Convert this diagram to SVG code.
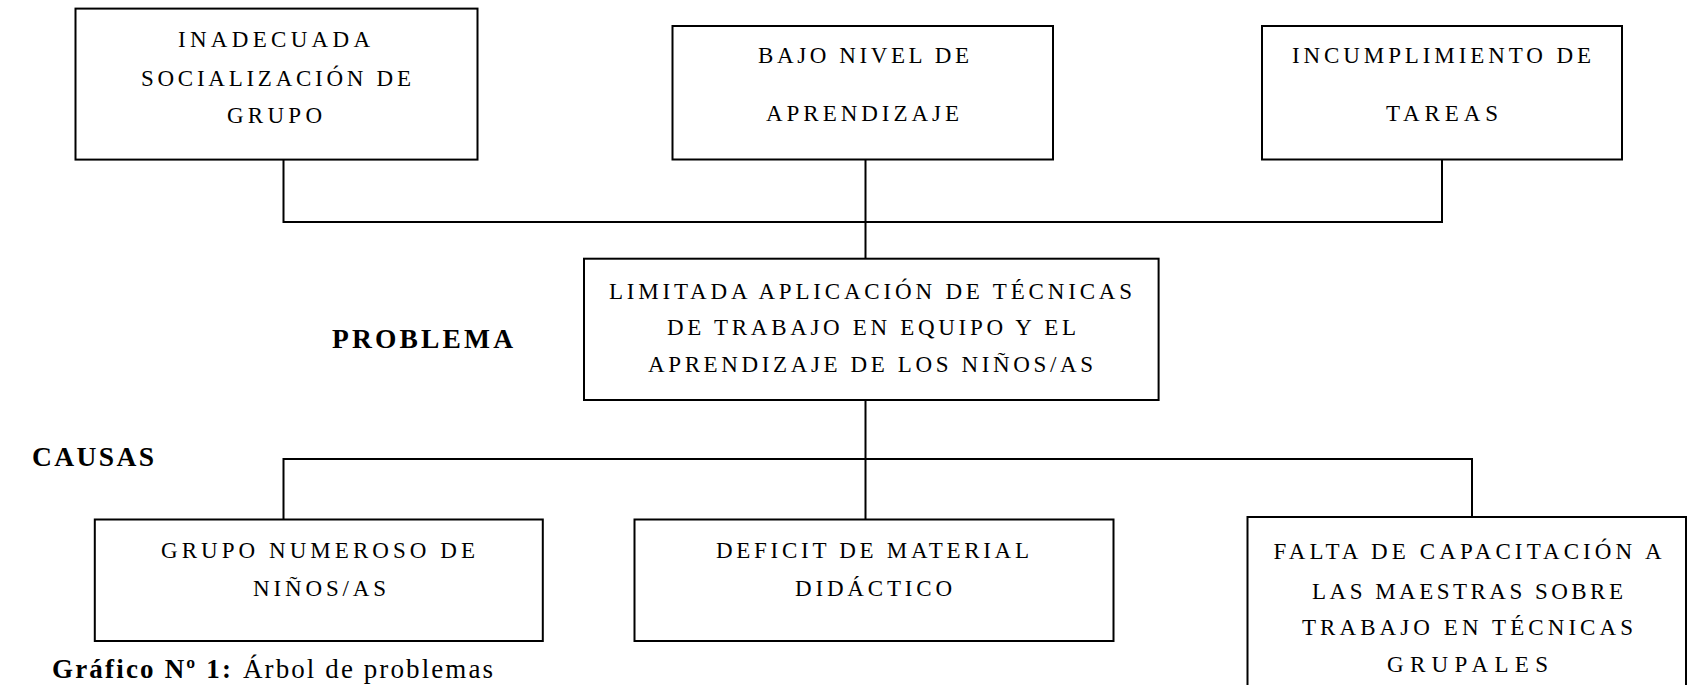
<svg xmlns="http://www.w3.org/2000/svg" width="1690" height="685" viewBox="0 0 1690 685">
<style>
.box{fill:#fff;stroke:#000;stroke-width:2}
.ln{fill:none;stroke:#000;stroke-width:2}
text{font-family:"Liberation Serif","Times New Roman",serif;fill:#000}
.t{font-size:23px;text-anchor:middle}
.b{font-size:27.5px;font-weight:bold}
.c{font-size:27px}
</style>
<rect width="1690" height="685" fill="#fff"/>
<g id="connectors">
<path class="ln" d="M283.5,159.5V222H1442V159.5M865.5,159.5V258.7"/>
<path class="ln" d="M865.5,400V459M283.5,519.5V459H1472V517M865.5,459V519.5"/>
</g>
<g id="n1">
<rect class="box" x="75.5" y="8.6" width="402" height="151"/>
<text class="t"><tspan x="274" y="46.5" textLength="192" lengthAdjust="spacing">INADECUADA</tspan><tspan x="276" y="86" textLength="270" lengthAdjust="spacing">SOCIALIZACIÓN DE</tspan><tspan x="274.5" y="122.5" textLength="95" lengthAdjust="spacing">GRUPO</tspan></text>
</g>
<g id="n2">
<rect class="box" x="672.5" y="26" width="380.5" height="133.5"/>
<text class="t"><tspan x="863.5" y="63.3" textLength="211" lengthAdjust="spacing">BAJO NIVEL DE</tspan><tspan x="862.5" y="121" textLength="193" lengthAdjust="spacing">APRENDIZAJE</tspan></text>
</g>
<g id="n3">
<rect class="box" x="1262" y="26" width="360" height="133.5"/>
<text class="t"><tspan x="1441.5" y="63.3" textLength="299" lengthAdjust="spacing">INCUMPLIMIENTO DE</tspan><tspan x="1442" y="121" textLength="112" lengthAdjust="spacing">TAREAS</tspan></text>
</g>
<g id="problem">
<rect class="box" x="584" y="258.7" width="574.6" height="141.3"/>
<text class="t"><tspan x="870.5" y="298.5" textLength="523" lengthAdjust="spacing">LIMITADA APLICACIÓN DE TÉCNICAS</tspan><tspan x="871.5" y="335" textLength="409" lengthAdjust="spacing">DE TRABAJO EN EQUIPO Y EL</tspan><tspan x="870.5" y="371.5" textLength="445" lengthAdjust="spacing">APRENDIZAJE DE LOS NIÑOS/AS</tspan></text>
</g>
<g id="label-problema">
<text class="b" x="332" y="347.5" textLength="181" lengthAdjust="spacing">PROBLEMA</text>
</g>
<g id="label-causas">
<text class="b" x="32" y="465.5" textLength="122" lengthAdjust="spacing">CAUSAS</text>
</g>
<g id="c1">
<rect class="box" x="94.8" y="519.5" width="448" height="121.5"/>
<text class="t"><tspan x="318" y="558" textLength="314" lengthAdjust="spacing">GRUPO NUMEROSO DE</tspan><tspan x="319.5" y="595.5" textLength="133" lengthAdjust="spacing">NIÑOS/AS</tspan></text>
</g>
<g id="c2">
<rect class="box" x="634.5" y="519.5" width="479" height="121.5"/>
<text class="t"><tspan x="872.5" y="558" textLength="313" lengthAdjust="spacing">DEFICIT DE MATERIAL</tspan><tspan x="873.5" y="595.5" textLength="157" lengthAdjust="spacing">DIDÁCTICO</tspan></text>
</g>
<g id="c3">
<rect class="box" x="1247.5" y="517" width="438.5" height="180"/>
<text class="t"><tspan x="1467.5" y="559" textLength="388" lengthAdjust="spacing">FALTA DE CAPACITACIÓN A</tspan><tspan x="1467.5" y="599" textLength="311" lengthAdjust="spacing">LAS MAESTRAS SOBRE</tspan><tspan x="1467.5" y="635" textLength="331" lengthAdjust="spacing">TRABAJO EN TÉCNICAS</tspan><tspan x="1467.5" y="672" textLength="161" lengthAdjust="spacing">GRUPALES</tspan></text>
</g>
<g id="caption">
<text class="c" y="677.5"><tspan x="52" font-weight="bold" textLength="179" lengthAdjust="spacing">Gráfico Nº 1:</tspan><tspan x="243" textLength="250" lengthAdjust="spacing">Árbol de problemas</tspan></text>
</g>
</svg>
